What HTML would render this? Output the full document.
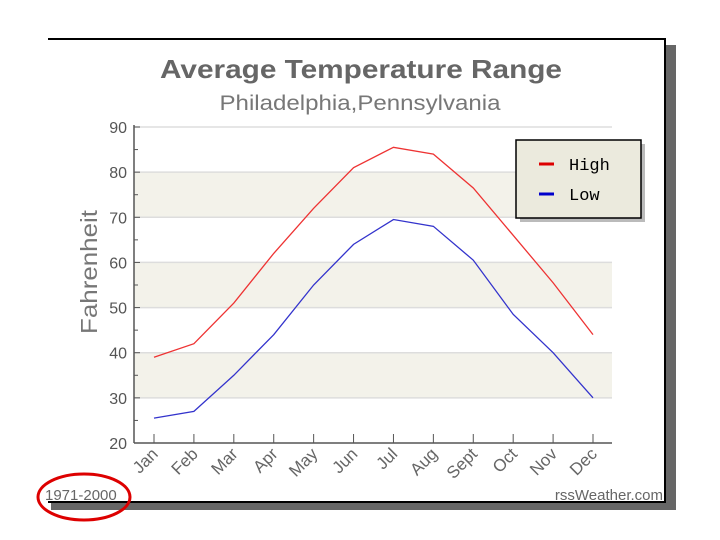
<!DOCTYPE html>
<html><head><meta charset="utf-8"><style>
body{margin:0;background:#fff;width:720px;height:540px;overflow:hidden}
svg{display:block;font-family:"Liberation Sans",Arial,sans-serif}
</style></head><body>
<svg id="c" width="720" height="540">
<rect x="51" y="502" width="625" height="8" fill="#666"/>
<rect x="666" y="45" width="10" height="465" fill="#666"/>
<line x1="48" y1="39" x2="666" y2="39" stroke="#000" stroke-width="2"/>
<line x1="665" y1="38" x2="665" y2="503" stroke="#000" stroke-width="2"/>
<line x1="48" y1="502" x2="666" y2="502" stroke="#000" stroke-width="2"/>
<text x="361" y="78" text-anchor="middle" font-size="26" font-weight="bold" fill="#666" textLength="402" lengthAdjust="spacingAndGlyphs">Average Temperature Range</text>
<text x="360" y="110" text-anchor="middle" font-size="21" fill="#777" textLength="281" lengthAdjust="spacingAndGlyphs">Philadelphia,Pennsylvania</text>
<text transform="translate(97,272) rotate(-90)" text-anchor="middle" font-size="23" fill="#777" textLength="124" lengthAdjust="spacingAndGlyphs">Fahrenheit</text>
<g id="bands"></g><g id="grid"></g><g id="axes"></g><g id="series"></g>
<g>
<rect x="520" y="144" width="125" height="78" fill="#bbb"/>
<rect x="516" y="140" width="125" height="78" fill="#ebeadd" stroke="#000" stroke-width="1.5"/>
<line x1="539" y1="164" x2="554" y2="164" stroke="#d00" stroke-width="3"/>
<text x="569" y="170" font-size="17" font-family="Liberation Mono,monospace" fill="#000">High</text>
<line x1="539" y1="194" x2="554" y2="194" stroke="#00c" stroke-width="3"/>
<text x="569" y="200" font-size="17" font-family="Liberation Mono,monospace" fill="#000">Low</text>
</g>
<text x="45" y="500" font-size="15" fill="#666">1971-2000</text>
<text x="663" y="500" text-anchor="end" font-size="15" fill="#666">rssWeather.com</text>
<ellipse cx="84" cy="497" rx="46" ry="23" fill="none" stroke="#d00" stroke-width="3"/>
</svg>
<script>
const months=["Jan","Feb","Mar","Apr","May","Jun","Jul","Aug","Sept","Oct","Nov","Dec"];
const highs=[39,42,51,62,72,81,85.5,84,76.5,66,55.5,44];
const lows=[25.5,27,35,44,55,64,69.5,68,60.5,48.5,40,30];
const yTicks=[20,30,40,50,60,70,80,90];
const NS="http://www.w3.org/2000/svg";
const L=134,R=612,T=127,B=443;
const y=v=>B-(v-20)/70*(B-T);
const x=i=>154+i*(593-154)/11;
function mk(t,a,p){const e=document.createElementNS(NS,t);for(const k in a)e.setAttribute(k,a[k]);p.appendChild(e);return e;}
const bands=document.getElementById('bands'),grid=document.getElementById('grid'),axes=document.getElementById('axes'),ser=document.getElementById('series');
for(let k=0;k<yTicks.length-1;k++){
  if(k%2==1){const r=mk('rect',{x:L,y:y(yTicks[k+1]),width:R-L,height:y(yTicks[k])-y(yTicks[k+1]),fill:'#f3f2ea'},bands);
  
  }
}
yTicks.forEach(v=>{
  if(v>20){const g=mk('line',{x1:L,x2:R,y1:y(v),y2:y(v),stroke:'#ddd','stroke-width':1.5},grid);
  
  }
  const t=mk('text',{x:127,y:y(v)+6,'text-anchor':'end','font-size':16,fill:'#555'},axes);t.textContent=v;
  
  
  mk('line',{x1:L,x2:L+6,y1:y(v),y2:y(v),stroke:'#555'},axes);
  if(v<90)mk('line',{x1:L,x2:L+4,y1:y(v+5),y2:y(v+5),stroke:'#555'},axes);
});
const ya=mk('line',{x1:L,x2:L,y1:T-2,y2:B,stroke:'#555','stroke-width':1.5},axes);


const xa=mk('line',{x1:L,x2:R,y1:B,y2:B,stroke:'#555','stroke-width':1.5},axes);


months.forEach((m,i)=>{
  mk('line',{x1:x(i),x2:x(i),y1:B,y2:B-9,stroke:'#555'},axes);
  const t=mk('text',{transform:`translate(${x(i)+5},${B+12}) rotate(-45)`,'text-anchor':'end','font-size':17,fill:'#666'},axes);t.textContent=m;
  
  
});
function line(d,c,n){const p=mk('polyline',{points:d.map((v,i)=>x(i)+','+y(v)).join(' '),fill:'none',stroke:c,'stroke-width':1.3},ser);
  
  }
line(highs,'#e33','high-line');
line(lows,'#33c','low-line');
</script>
</body></html>
